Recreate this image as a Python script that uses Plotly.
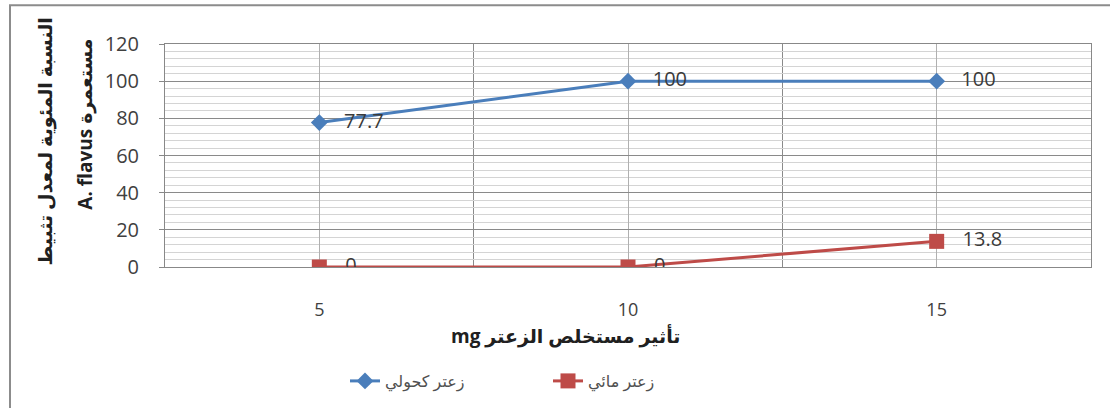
import plotly.graph_objects as go

doses = ["5", "10", "15"]
alcoholic = [77.7, 100, 100]
aqueous = [0, 0, 13.8]
series_names = ["زعتر كحولي", "زعتر مائي"]
x_title = "mg تأثير مستخلص الزعتر"
y_title_1 = "النسبة المئوية لمعدل تثبيط"
y_title_2 = "A. flavus مستعمرة"

W, H = 1110, 408
L, R, T, B = 165, 19, 44, 140
pw, ph = W - L - R, H - T - B

def px(x):
    return (x - L) / pw

def py(y):
    return (H - B - y) / ph

xs = list(range(len(doses)))
font_fam = "Open Sans, DejaVu Sans, sans-serif"
pad = "\u00a0\u00a0\u00a0"

fig = go.Figure()
fig.add_trace(go.Scatter(
    x=xs, y=alcoholic, name=series_names[0], mode="lines+markers+text",
    line=dict(color="#4A7EBB", width=3),
    marker=dict(symbol="diamond", size=13, color="#4A7EBB"),
    text=[pad + str(v) for v in alcoholic], textposition="middle right",
    textfont=dict(size=20, color="#3A3A3A", family=font_fam),
))
fig.add_trace(go.Scatter(
    x=xs, y=aqueous, name=series_names[1], mode="lines+markers+text",
    line=dict(color="#BE4B48", width=3),
    marker=dict(symbol="square", size=15, color="#BE4B48"),
    text=[pad + str(v) for v in aqueous], textposition="middle right",
    textfont=dict(size=20, color="#3A3A3A", family=font_fam),
))

fig.update_layout(
    width=W, height=H,
    margin=dict(l=L, r=R, t=T, b=B),
    paper_bgcolor="white", plot_bgcolor="white",
    font=dict(family=font_fam, size=15, color="#404040"),
    showlegend=True,
    legend=dict(orientation="h", x=px(345), y=py(381), xanchor="left", yanchor="middle",
                entrywidth=158, entrywidthmode="pixels",
                font=dict(size=16, color="#505050"), bgcolor="rgba(0,0,0,0)"),
    xaxis=dict(
        range=[-0.5, len(doses) - 0.5], tickmode="array", tickvals=xs, ticktext=doses,
        showgrid=True, gridcolor="#B0B0B0", gridwidth=1, zeroline=False,
        showline=True, linecolor="#888888", linewidth=1, mirror=True,
        ticks="", tickfont=dict(size=18, color="#404040"), ticklabelstandoff=26,
        minor=dict(tickmode="array", tickvals=[-0.5, 0.5, 1.5, 2.5], showgrid=True,
                   gridcolor="#8A8A8A", gridwidth=1, ticks=""),
    ),
    yaxis=dict(
        range=[0, 120], dtick=20, tick0=0,
        showgrid=True, gridcolor="#8A8A8A", gridwidth=1, zeroline=False,
        showline=True, linecolor="#888888", linewidth=1, mirror=True,
        ticks="outside", ticklen=5, tickcolor="#888888",
        tickfont=dict(size=20, color="#404040"), ticklabelstandoff=16,
        minor=dict(dtick=4, showgrid=True, gridcolor="#D4D4D4", gridwidth=1, ticks=""),
    ),
    annotations=[
        dict(text="<b>" + x_title + "</b>", xref="paper", yref="paper",
             x=px(565), y=py(337), xanchor="center", yanchor="middle", showarrow=False,
             font=dict(size=19, color="#202020")),
        dict(text="<b>" + y_title_1 + "</b>", xref="paper", yref="paper",
             x=px(45), y=py(142), xanchor="center", yanchor="middle", showarrow=False,
             textangle=-90, font=dict(size=19, color="#202020")),
        dict(text="<b>" + y_title_2 + "</b>", xref="paper", yref="paper",
             x=px(85), y=py(125), xanchor="center", yanchor="middle", showarrow=False,
             textangle=-90, font=dict(size=19, color="#202020")),
    ],
    shapes=[
        dict(type="rect", xref="paper", yref="paper",
             x0=px(10), x1=px(1120), y0=py(5), y1=py(420),
             line=dict(color="#8C8C8C", width=2), fillcolor="rgba(0,0,0,0)", layer="below"),
    ],
)

fig.write_html("out.html")
